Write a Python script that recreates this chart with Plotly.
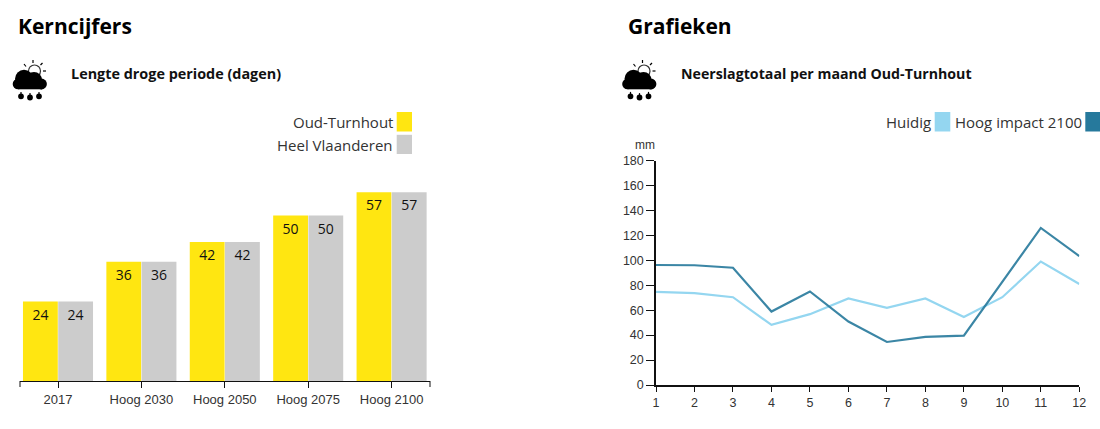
import plotly.graph_objects as go

W, H = 1100, 429

# ---- data ----
categories = ["2017", "Hoog 2030", "Hoog 2050", "Hoog 2075", "Hoog 2100"]
oud_turnhout = [24, 36, 42, 50, 57]
heel_vlaanderen = [24, 36, 42, 50, 57]
months = [1, 2, 3, 4, 5, 6, 7, 8, 9, 10, 11, 12]
huidig = [74.7, 73.7, 70.4, 48.2, 56.8, 69.4, 61.9, 69.4, 54.6, 70.4, 99, 81]
hoog_2100 = [96.2, 96, 94, 58.9, 75, 50.9, 34.5, 38.6, 39.6, 83, 125.9, 103.4]
y_ticks = [0, 20, 40, 60, 80, 100, 120, 140, 160, 180]

YELLOW = "#FFE611"
GREY = "#CCCCCC"
LIGHT = "#94D6F0"
DARK = "#26799C"
INK = "#111111"
AXIS_FONT = "Liberation Sans"
UI_FONT = "Open Sans"


def px(x):
    return x / W


def py(y):
    return 1 - y / H


def rect(x0, y0, x1, y1, color):
    return dict(type="rect", xref="paper", yref="paper", x0=px(x0), x1=px(x1),
                y0=py(y0), y1=py(y1), fillcolor=color, line_width=0, layer="above")


def seg(x0, y0, x1, y1, color="#000000", width=1.2):
    return dict(type="line", xref="paper", yref="paper", x0=px(x0), x1=px(x1),
                y0=py(y0), y1=py(y1), line=dict(color=color, width=width), layer="above")


def blob(cx, cy, r, color="#000000"):
    return dict(type="circle", xref="paper", yref="paper", x0=px(cx - r), x1=px(cx + r),
                y0=py(cy + r), y1=py(cy - r), fillcolor=color, line_width=0, layer="above")


def icon(dx):
    s = []
    # sun rays and disc
    s += [seg(33 + dx, 63, 33 + dx, 60), seg(26 + dx, 66.5, 24 + dx, 64),
          seg(40.5 + dx, 65, 42.5 + dx, 63), seg(43 + dx, 71, 46 + dx, 71)]
    s.append(blob(34.5 + dx, 71, 6.6, "#333333"))
    s.append(blob(34.5 + dx, 71, 5.4, "#FFFFFF"))
    # cloud
    for cx, cy, r in [(18, 84, 5.3), (24, 78.8, 9), (34, 80, 8), (41.5, 84, 5.4)]:
        s.append(blob(cx + dx, cy, r))
    s.append(rect(18 + dx, 80, 42 + dx, 89.3, "#000000"))
    # rain drops
    for cx, cy in [(21, 96.3), (30, 97.5), (39, 96.3)]:
        s.append(blob(cx + dx, cy, 2.9))
        s.append(seg(cx + dx, cy - 4.4, cx + dx, cy, width=1.2))
    return s


def label(x, y, text, size, color=INK, family=UI_FONT, anchor="left", bold=False):
    return dict(xref="paper", yref="paper", x=px(x), y=py(y), text=f"<b>{text}</b>" if bold else text,
                showarrow=False, xanchor=anchor, yanchor="middle", align=anchor,
                font=dict(size=size, color=color, family=family))


fig = go.Figure()

# ---- bars ----
for name, vals, col in [("Oud-Turnhout", oud_turnhout, YELLOW),
                        ("Heel Vlaanderen", heel_vlaanderen, GREY)]:
    fig.add_trace(go.Bar(
        x=categories, y=vals, name=name, marker=dict(color=col, line_width=0),
        text=vals, textposition="inside", insidetextanchor="end", textangle=0,
        insidetextfont=dict(size=14, color="#111111", family=UI_FONT),
        xaxis="x", yaxis="y", showlegend=False, hoverinfo="x+y"))

# ---- lines ----
for name, vals, col in [("Huidig", huidig, LIGHT), ("Hoog impact 2100", hoog_2100, DARK)]:
    fig.add_trace(go.Scatter(
        x=months, y=vals, name=name, mode="lines",
        line=dict(color=col, width=2.2), opacity=0.9 if col == DARK else 1,
        xaxis="x2", yaxis="y2", showlegend=False, cliponaxis=False))

shapes = icon(0) + icon(609.5)

# legend swatches
shapes += [rect(396.7, 112, 412, 131.5, YELLOW), rect(396.7, 134.8, 412, 154, GREY),
           rect(934.7, 112, 950.3, 131.5, LIGHT), rect(1085.3, 112, 1100, 131.5, DARK)]

# end ticks of the band axis on the left chart
for xd in (0, 1):
    shapes.append(dict(type="line", xref="x domain", yref="paper", x0=xd, x1=xd,
                       y0=py(381), y1=py(387), line=dict(color="#111111", width=1)))

annotations = [
    label(16, 26, "Kerncijfers", 21, "#000000", bold=True),
    label(626, 26, "Grafieken", 21, "#000000", bold=True),
    label(69, 73, "Lengte droge periode (dagen)", 14.4, "#111111", bold=True),
    label(678.5, 73, "Neerslagtotaal per maand Oud-Turnhout", 14.2, "#111111", bold=True),
    label(395, 122, "Oud-Turnhout", 15, "#333333", anchor="right"),
    label(395, 145, "Heel Vlaanderen", 15, "#333333", anchor="right"),
    label(933, 122, "Huidig", 15, "#333333", anchor="right"),
    label(1084, 122, "Hoog impact 2100", 15, "#333333", anchor="right"),
    label(656.5, 145, "mm", 12, "#333333", family=AXIS_FONT, anchor="right"),
]

band_first = (20 - 58) / 83.4
band_last = (430 - 58) / 83.4

fig.update_layout(
    width=W, height=H, autosize=False,
    margin=dict(l=0, r=0, t=0, b=0), paper_bgcolor="#FFFFFF", plot_bgcolor="#FFFFFF",
    barmode="group", bargap=0.155, bargroupgap=0.012,
    shapes=shapes, annotations=annotations, showlegend=False,
    xaxis=dict(domain=[px(20), px(430)], range=[band_first, band_last], type="category",
               automargin=False,
               anchor="y", showgrid=False, zeroline=False, showline=True, linecolor="#111111",
               linewidth=1, ticks="outside", ticklen=6, tickcolor="#111111", tickwidth=1,
               tickfont=dict(size=13, family=AXIS_FONT, color="#333333"), tickson="labels"),
    yaxis=dict(domain=[py(381), py(180)], range=[0, 201 / 3.31], anchor="x", visible=False,
               automargin=False, fixedrange=True),
    xaxis2=dict(domain=[px(656), px(1079.3)], range=[1, 12], anchor="y2", tickvals=months,
                automargin=False,
                showgrid=False, zeroline=False, showline=True, linecolor="#111111", linewidth=1.5,
                ticks="outside", ticklen=5, tickcolor="#111111", tickwidth=1,
                tickfont=dict(size=12.5, family=AXIS_FONT, color="#333333")),
    yaxis2=dict(domain=[py(385), py(160.5)], range=[0, 180], anchor="x2", tickvals=y_ticks,
                automargin=False,
                showgrid=False, zeroline=False, showline=True, linecolor="#111111", linewidth=1.5,
                ticks="outside", ticklen=8, tickcolor="#111111", tickwidth=1,
                tickfont=dict(size=12.5, family=AXIS_FONT, color="#333333")),
)

fig.write_html("out.html", config={"displayModeBar": False},
               post_script="document.body.style.margin='0';document.body.style.overflow='hidden';")
